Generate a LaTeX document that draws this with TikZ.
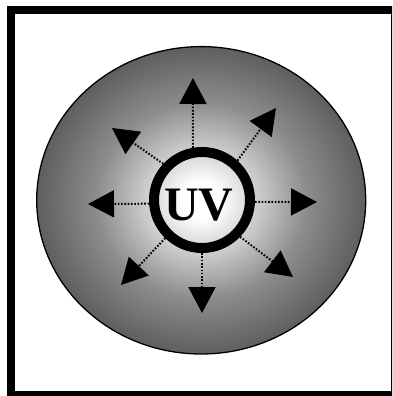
\documentclass[tikz,border=0pt]{standalone}
\usepackage{fontspec}
\setmainfont{Liberation Serif}
\usetikzlibrary{arrows.meta}
\pgfdeclareradialshading{glow}{\pgfpoint{0bp}{0bp}}{color(0bp)=(white); color(3bp)=(white); color(8bp)=(black!18); color(16bp)=(black!45); color(25bp)=(black!63); color(50bp)=(black!63)}
\tikzset{
  ray/.style={line width=2pt, dash pattern=on 1.6pt off 1.7pt, black,
    -{Triangle[length=26pt,width=27pt]}},
  ringnode/.style={circle, draw=black, line width=10pt, minimum size=96pt, inner sep=0pt},
}
\begin{document}
\begin{tikzpicture}[x=1pt,y=-1pt]
\useasboundingbox (0,0) rectangle (392,396);
\clip (0,0) rectangle (392,396);
\fill[white] (0,0) rectangle (392,396);
% shaded ellipse
\shade[shading=glow] (201.2,200.3) ellipse [x radius=164.5, y radius=153.7];
\draw[line width=1.3pt] (201.2,200.3) ellipse [x radius=164.5, y radius=153.7];
% ring
\node[ringnode] (uv) at (202,200) {};
\node[anchor=base, inner sep=0pt, font=\fontsize{48}{48}\selectfont\bfseries] (uvtext) at (199,220.7) {UV};
% tips
\coordinate (tu) at (193,78);
\coordinate (td) at (202,313);
\coordinate (tr) at (317,202);
\coordinate (tl) at (88,204);
\coordinate (tul) at (112,128);
\coordinate (tur) at (276,108);
\coordinate (tll) at (121,285);
\coordinate (tlr) at (293,277);
\draw[ray] (uv.100) -- (tu);
\draw[ray] (uv.270) -- (td);
\draw[ray] (uv.-2) -- (tr);
\draw[ray] (uv.184) -- (tl);
\draw[ray] (uv.137) -- (tul);
\draw[ray] (uv.48) -- (tur);
\draw[ray] (uv.226) -- (tll);
\draw[ray] (uv.316) -- (tlr);
% frame
\draw[line width=8pt] (11,10) rectangle (394.5,394.7);
\end{tikzpicture}
\end{document}
